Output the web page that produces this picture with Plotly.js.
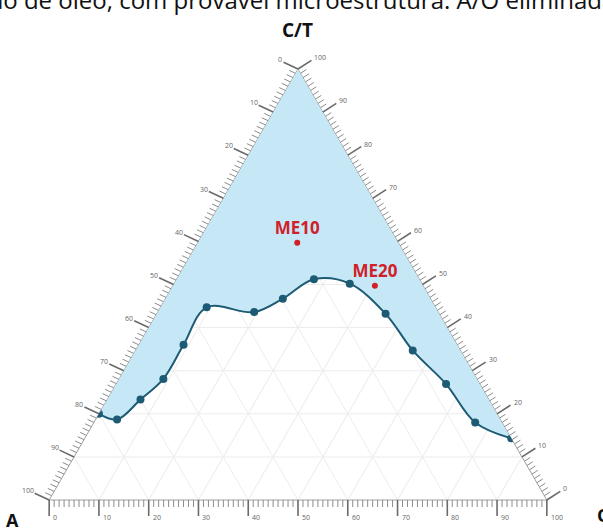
<!DOCTYPE html>
<html>
<head>
<meta charset="utf-8">
<script src="https://cdn.plot.ly/plotly-3.0.1.min.js"></script>
<style>html,body{margin:0;padding:0;background:#fff;}#chart{width:603px;height:529px;}</style>
</head>
<body>
<div id="chart"></div>
<script>
// Boundary curve (percent): A, O, C/T
var curveA  = [80, 77, 70, 63, 55, 46, 37, 29.7, 21.2, 14.5, 10.8, 9.6, 6.8, 5.4, 0];
var curveO  = [0, 4.3, 6.7, 8.9, 9.0, 9.3, 19.4, 23.6, 27.6, 35.3, 46.0, 55.7, 66.3, 76.6, 85.7];
var curveCT = [20, 18.7, 23.3, 28.1, 36.0, 44.7, 43.6, 46.7, 51.2, 50.2, 43.2, 34.7, 26.9, 18.0, 14.3];

// Samples
var sampleNames = ["ME10", "ME20"];
var sampleA  = [20.3, 9.7];
var sampleO  = [20.0, 40.6];
var sampleCT = [59.7, 49.7];

// Apex of the C/T corner closes the single-phase region
var apexA = 0, apexO = 0, apexCT = 100;

// Axis ticks (percent)
var majorVals = [0, 10, 20, 30, 40, 50, 60, 70, 80, 90, 100];
var minorVals = [];
for (var i = 0; i <= 100; i++) if (i % 10 !== 0) minorVals.push(i);

var lineColor = "#1d5a74";
var fillColor = "#c6e8f6";
var red = "#d0202a";

var W = 603, H = 529;
var dom = {x: [49/603, 547/603], y: [1 - 500/529, 1 - 69/529]};

// triangle geometry (same rule Plotly uses to fit the ternary in its domain)
var s3 = Math.sqrt(3);
var dw = (dom.x[1] - dom.x[0]) * W, dh = (dom.y[1] - dom.y[0]) * H;
var tw = Math.min(dw, dh * 2 / s3), th = tw * s3 / 2;
var cx = (dom.x[0] + dom.x[1]) / 2 * W, cy = H * (1 - (dom.y[0] + dom.y[1]) / 2);
var T = [cx, cy - th / 2], L = [cx - tw / 2, cy + th / 2], R = [cx + tw / 2, cy + th / 2];
function lerp(p, q, t) { return [p[0] + (q[0] - p[0]) * t, p[1] + (q[1] - p[1]) * t]; }
function px(x) { return x / W; }
function py(y) { return 1 - y / H; }

var edges = [
  // left edge: A, 0 at top
  {pos: function (v) { return lerp(T, L, v / 100); }, dir: [-Math.cos(Math.PI / 7.2), -Math.sin(Math.PI / 7.2)],
   xanchor: "right", yanchor: "bottom", off: [0, 3]},
  // bottom edge: O, 0 at left
  {pos: function (v) { return lerp(L, R, v / 100); }, dir: [0, 1],
   xanchor: "left", yanchor: "middle", off: [3, 1]},
  // right edge: C/T, 0 at bottom
  {pos: function (v) { return lerp(R, T, v / 100); }, dir: [Math.cos(Math.PI / 5.5), -Math.sin(Math.PI / 5.5)],
   xanchor: "left", yanchor: "bottom", off: [2, 3]}
];

var shapes = [], annotations = [];
edges.forEach(function (e) {
  minorVals.forEach(function (v) {
    var p = e.pos(v), len = 7;
    shapes.push({type: "line", xref: "paper", yref: "paper", layer: "above",
      x0: px(p[0]), y0: py(p[1]), x1: px(p[0] + e.dir[0] * len), y1: py(p[1] + e.dir[1] * len),
      line: {color: "#8c8c8c", width: 1}});
  });
  majorVals.forEach(function (v) {
    var p = e.pos(v), len = 16;
    var q = [p[0] + e.dir[0] * len, p[1] + e.dir[1] * len];
    shapes.push({type: "line", xref: "paper", yref: "paper", layer: "above",
      x0: px(p[0]), y0: py(p[1]), x1: px(q[0]), y1: py(q[1]),
      line: {color: "#6a6a6a", width: 1.6}});
    annotations.push({text: String(v), xref: "paper", yref: "paper", showarrow: false,
      x: px(q[0] + e.off[0]), y: py(q[1] + e.off[1]), xanchor: e.xanchor, yanchor: e.yanchor,
      font: {family: "Open Sans", size: 7, color: "#666"}, borderpad: 0});
  });
});

annotations.push(
  {text: "emulsão de óleo, com provável microestrutura: A/O eliminada", xref: "paper", yref: "paper",
   x: -80 / W, y: py(18), xanchor: "left", yanchor: "bottom", showarrow: false,
   font: {family: "Open Sans", size: 24, color: "#111"}},
  {text: "<b>C/T</b>", xref: "paper", yref: "paper", x: 297 / W, y: py(30),
   xanchor: "center", yanchor: "middle", showarrow: false, font: {family: "Open Sans", size: 19, color: "#111"}},
  {text: "<b>A</b>", xref: "paper", yref: "paper", x: 12 / W, y: py(520),
   xanchor: "center", yanchor: "middle", showarrow: false, font: {family: "Open Sans", size: 18, color: "#111"}},
  {text: "<b>O</b>", xref: "paper", yref: "paper", x: 595 / W, y: py(515),
   xanchor: "left", yanchor: "middle", showarrow: false, font: {family: "Open Sans", size: 18, color: "#111"}}
);

var last = curveA.length - 1;
var traces = [
  {
    // outer boundary of the region along the triangle edges (through the C/T apex)
    type: "scatterternary",
    a: [curveCT[0], apexCT, curveCT[last]], b: [curveA[0], apexA, curveA[last]], c: [curveO[0], apexO, curveO[last]],
    mode: "lines", line: {width: 0, color: "rgba(0,0,0,0)"}, hoverinfo: "skip", showlegend: false
  },
  {
    type: "scatterternary",
    a: curveCT, b: curveA, c: curveO,
    mode: "lines+markers", fill: "tonext", fillcolor: fillColor,
    line: {color: lineColor, width: 2, shape: "spline", smoothing: 1},
    marker: {color: lineColor, size: 8},
    showlegend: false
  },
  {
    type: "scatterternary",
    a: sampleCT, b: sampleA, c: sampleO, text: sampleNames,
    mode: "markers+text", textposition: "top center",
    marker: {color: red, size: 6},
    textfont: {family: "Open Sans", size: 17, color: red, weight: "bold"},
    showlegend: false
  }
];

function gridAxis() {
  return {title: {text: ""}, tickmode: "array", tickvals: majorVals, ticks: "", showticklabels: false,
          showgrid: true, gridcolor: "#ececec", gridwidth: 1, showline: true, linecolor: "#a0a0a0",
          linewidth: 1, layer: "below traces"};
}

var layout = {
  width: W, height: H,
  margin: {l: 0, r: 0, t: 0, b: 0},
  paper_bgcolor: "#fff",
  showlegend: false,
  ternary: {sum: 100, domain: dom, bgcolor: "#fff", aaxis: gridAxis(), baxis: gridAxis(), caxis: gridAxis()},
  shapes: shapes,
  annotations: annotations
};

Plotly.newPlot("chart", traces, layout, {displayModeBar: false, staticPlot: true});
</script>
</body>
</html>
